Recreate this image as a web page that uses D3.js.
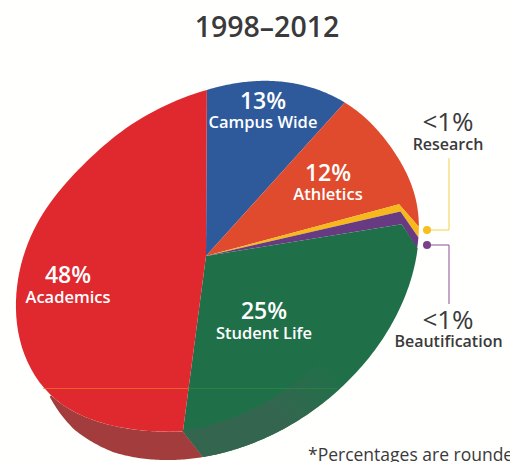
<!DOCTYPE html>
<html><head><meta charset="utf-8">
<script src="https://cdn.jsdelivr.net/npm/d3@7"></script>
<style>html,body{margin:0;padding:0;background:#fffffd;overflow:hidden}svg{display:block}text{font-family:"Open Sans",sans-serif}</style>
</head><body><svg width="510" height="462"></svg>
<script>
const categories=["Campus Wide","Athletics","Research","Beautification","Student Life","Academics"];
const values=[13,12,1,1,25,48];
const pctLabels=["13%","12%","<1%","<1%","25%","48%"];
const colors=["#2e5a9c","#e04b2d","#f6b81a","#673a82","#1f7049","#e0282f"];
const rimAngles=[0.3,42.1,82.2,85,88,187.5,360.3];
const elbowAngles=[null,null,75,77.1,80.8,null,null];
const apex=[206,256];
const E={cx:217.5,cy:259.5,a:210,b:162,tilt:-26*Math.PI/180};
const E2={cx:217.5,cy:273.5,a:218,b:167,tilt:-36.4*Math.PI/180};
const faceFactors=[1.017,1.04,1.04,1.015,.98,.998,1,1,1,1,1,1,.995,1,1.02,1.05,1.03,1,.985,.975,.96,.965,.985,1];
const adjFace=d3.interpolateBasisClosed(faceFactors);
const adjSil=d3.scaleLinear().domain([181,205,217,228,240]).range([1,1,.985,.955,.955]);
const svg=d3.select("svg");
const arcs=d3.pie().sort(null).value(d=>d)(values);
const bounds=[...arcs.map(a=>a.startAngle),arcs[arcs.length-1].endAngle];
const toScreen=d3.scaleLinear().domain(bounds).range(rimAngles);
function rimDist(deg,e){
  const t=deg*Math.PI/180,dx=Math.sin(t),dy=-Math.cos(t);
  const c=Math.cos(e.tilt),s=Math.sin(e.tilt),ox=apex[0]-e.cx,oy=apex[1]-e.cy;
  const ux=dx*c+dy*s,uy=-dx*s+dy*c,px=ox*c+oy*s,py=-ox*s+oy*c;
  const A=ux*ux/e.a/e.a+uy*uy/e.b/e.b,B=2*(px*ux/e.a/e.a+py*uy/e.b/e.b),C=px*px/e.a/e.a+py*py/e.b/e.b-1;
  return (-B+Math.sqrt(B*B-4*A*C))/(2*A);
}
function pt(deg,f=1,e=E){
  const k=e===E?adjFace(((deg%360)+360)%360/360):adjSil(deg);
  const r=rimDist(deg,e)*f*k,t=deg*Math.PI/180;
  return [apex[0]+r*Math.sin(t),apex[1]-r*Math.cos(t)];
}
const line=d3.line();
function rim(a0,a1,e=E){return d3.range(0,81).map(i=>pt(a0+(a1-a0)*i/80,1,e));}
const defs=svg.append("defs");
const g=defs.append("linearGradient").attr("id","fade").attr("gradientUnits","userSpaceOnUse")
  .attr("x1",285).attr("y1",420).attr("x2",335).attr("y2",368);
g.append("stop").attr("offset",0).attr("stop-color","#34664f").attr("stop-opacity",1);
g.append("stop").attr("offset",1).attr("stop-color","#34664f").attr("stop-opacity",0);
const sideSplit=180.9;
// dark red side
svg.append("path").attr("d",line([...rim(187.5,228),...rim(228,sideSplit,E2)])+"Z").attr("fill","#a33c3c");
// slices
arcs.forEach((a,i)=>{
  const r0=toScreen(a.startAngle),r1=toScreen(a.endAngle);
  const pts=[apex];
  if(elbowAngles[i]!=null)pts.push(pt(elbowAngles[i],.92));
  if(i===4)pts.push(...rim(r0,sideSplit,E2),pt(r1));
  else pts.push(...rim(r0,r1));
  if(elbowAngles[i+1]!=null)pts.push(pt(elbowAngles[i+1],.92));
  svg.append("path").attr("d",line(pts)+"Z").attr("fill",colors[i]);
});
// dark green side, fading out towards the right
const s0=pt(187.5),s1=[320,360];
const q=d3.path();q.moveTo(...s0);q.quadraticCurveTo(270,415,...s1);
const back=rim(132.9,sideSplit,E2);
back.forEach(p=>q.lineTo(...p));q.closePath();
svg.append("path").attr("d",q.toString()).attr("fill","url(#fade)");
// thin registration line
svg.append("line").attr("x1",43).attr("x2",188).attr("y1",388.5).attr("y2",388.5).attr("stroke","#ef7d22").attr("stroke-width",.7);
svg.append("line").attr("x1",188).attr("x2",337).attr("y1",388.5).attr("y2",388.5).attr("stroke","#2c8a3c").attr("stroke-width",.7);
// text
const T=(x,y,s,size,fill,w)=>svg.append("text").attr("x",x).attr("y",y).attr("text-anchor","middle").attr("font-size",size).attr("font-weight",w).attr("fill",fill).text(s);
T(267,37,"1998–2012",28.5,"#3a3a3c",600);
const lab=[[263,109,128],[328,181,200],null,null,[264,319,339],[68,283,303]];
arcs.forEach((a,i)=>{if(!lab[i])return;const [x,y1,y2]=lab[i];
  T(x,y1,pctLabels[i],23,"#fff",600);T(x,y2,categories[i],16.5,"#fff",600);});
T(448,131,pctLabels[2],26,"#3a3a3c",500);T(448,150,categories[2],16,"#3a3a3c",600);
T(448,329,pctLabels[3],26,"#3a3a3c",500);T(448.5,347,categories[3],16,"#3a3a3c",600);
svg.append("text").attr("x",308).attr("y",461).attr("font-size",17.5).attr("fill","#3a3a3c").text("*Percentages are rounded");
// leaders
svg.append("path").attr("d",line([[427,230],[449,230],[449,158]])).attr("fill","none").attr("stroke","#f8d04a").attr("stroke-width",1);
svg.append("circle").attr("cx",427).attr("cy",230).attr("r",4).attr("fill","#f8bf20");
svg.append("path").attr("d",line([[427,245],[449,245],[449,304]])).attr("fill","none").attr("stroke","#8c4f94").attr("stroke-width",1);
svg.append("circle").attr("cx",427).attr("cy",245).attr("r",4).attr("fill","#7b4187");
</script></body></html>
